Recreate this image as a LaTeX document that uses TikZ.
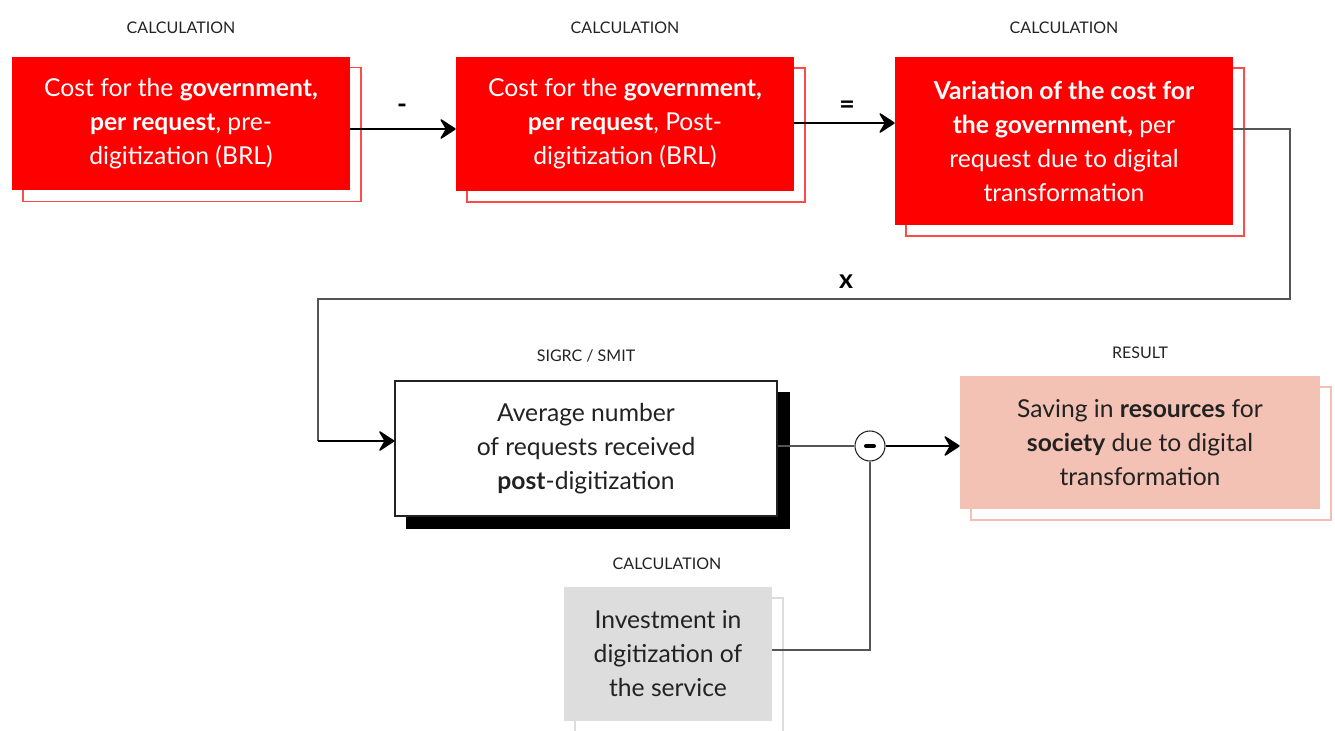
\documentclass[tikz,border=0pt]{standalone}
\usepackage{fontspec}
\setmainfont{Lato}
\usetikzlibrary{arrows.meta,backgrounds}
\definecolor{boxred}{HTML}{FF0000}
\definecolor{edgered}{HTML}{FF4A4A}
\definecolor{salmon}{HTML}{F4C2B5}
\definecolor{salmonedge}{HTML}{F5C0B2}
\definecolor{lightgrey}{HTML}{DDDDDD}
\definecolor{greyedge}{HTML}{DCDCDC}
\definecolor{ink}{HTML}{222222}
\definecolor{wire}{HTML}{555555}
\tikzset{
  chev/.tip={Stealth[length=13pt,width=17pt,inset=5pt,round]},
  box/.style={rectangle,inner sep=0pt,align=center,
    font=\fontsize{18.5}{25.5}\selectfont},
  redbox/.style={box,fill=boxred,text=white},
  whitebox/.style={box,draw=ink,line width=0.8pt,fill=white,text=ink},
  salmonbox/.style={box,fill=salmon,text=ink},
  greybox/.style={box,fill=lightgrey,text=ink},
  frame/.style={line width=1.2pt},
  tag/.style={font=\fontsize{12}{14}\selectfont,text=ink},
  oper/.style={font=\bfseries\fontsize{20}{20}\selectfont,text=black},
  flow/.style={line width=1.1pt,draw=black},
  loopline/.style={line width=1.1pt,draw=wire},
}
\begin{document}
\begin{tikzpicture}[x=0.75pt,y=-0.75pt]
\useasboundingbox (0,0) rectangle (1335,731);

% top row of calculation boxes
\node[redbox,minimum width=253.5pt,minimum height=100pt] (c1) at (181,123.5)
  {Cost for the \textbf{government,}\\ \textbf{per request}, pre-\\ digitization (BRL)};
\node[redbox,minimum width=253.5pt,minimum height=100.5pt] (c2) at (625,124)
  {Cost for the \textbf{government,}\\ \textbf{per request}, Post-\\ digitization (BRL)};
\node[redbox,minimum width=253.5pt,minimum height=126pt] (c3) at (1064,141)
  {\textbf{Variation of the cost for}\\ \textbf{the government,} per\\ request due to digital\\ transformation};

% second row
\node[whitebox,minimum width=286.5pt,minimum height=101.25pt] (avg) at (586,448.5)
  {Average number\\ of requests received\\ \textbf{post}-digitization};
\node[salmonbox,minimum width=270pt,minimum height=99.75pt] (res) at (1140,442.5)
  {Saving in \textbf{resources} for\\ \textbf{society} due to digital\\ transformation};
\node[greybox,minimum width=156pt,minimum height=100.5pt] (inv) at (668,654)
  {Investment in\\ digitization of\\ the service};

% offset frames and the solid shadow, drawn behind the boxes
\begin{scope}[on background layer]
  \foreach \b/\c in {c1/edgered,c2/edgered,c3/edgered,res/salmonedge,inv/greyedge}{
    \draw[frame,draw=\c] ([shift={(11,11)}]\b.north west) rectangle ([shift={(11,11)}]\b.south east);
  }
  \fill[black] ([shift={(12,12)}]avg.north west) rectangle ([shift={(12,12)}]avg.south east);
\end{scope}

% operator circle with its minus bar
\node[circle,draw=ink,line width=0.8pt,fill=white,minimum size=22.5pt,inner sep=0pt] (op) at (870,446) {};
\draw[line width=3pt,line cap=round] ([xshift=-3pt]op.center) -- ([xshift=3pt]op.center);

% box headings
\node[tag] (t1) at (181,28) {CALCULATION};
\node[tag] (t2) at (625,28) {CALCULATION};
\node[tag] (t3) at (1064,28) {CALCULATION};
\node[tag] (t4) at (586,356) {SIGRC / SMIT};
\node[tag] (t5) at (1140,353) {RESULT};
\node[tag] (t6) at (667,564) {CALCULATION};

% operator labels
\node[oper] (m1) at (402,109) {-};
\node[oper] (m2) at (847,107) {=};
\node[oper] (m3) at (846,282) {x};

% connectors
\coordinate (r1) at (1290,129);
\coordinate (r2) at (1290,299);
\coordinate (r3) at (318,299);
\coordinate (r4) at (318,441);
\coordinate (d1) at (870,650);
\draw[flow,-chev] (c1.east |- 0,129) -- (c2.west |- 0,129);
\draw[flow,-chev] (c2.east |- 0,123) -- (c3.west |- 0,123);
\draw[loopline] (c3.east |- r1) -- (r1) -- (r2) -- (r3) -- (r4);
\draw[flow,-chev] (r4) -- (avg.west |- r4);
\draw[loopline] (avg.east |- op) -- (op.west);
\draw[flow,-chev] (op.east) -- (res.west |- op);
\draw[loopline] (op.south) -- (d1) -- (inv.east |- d1);
\end{tikzpicture}
\end{document}
